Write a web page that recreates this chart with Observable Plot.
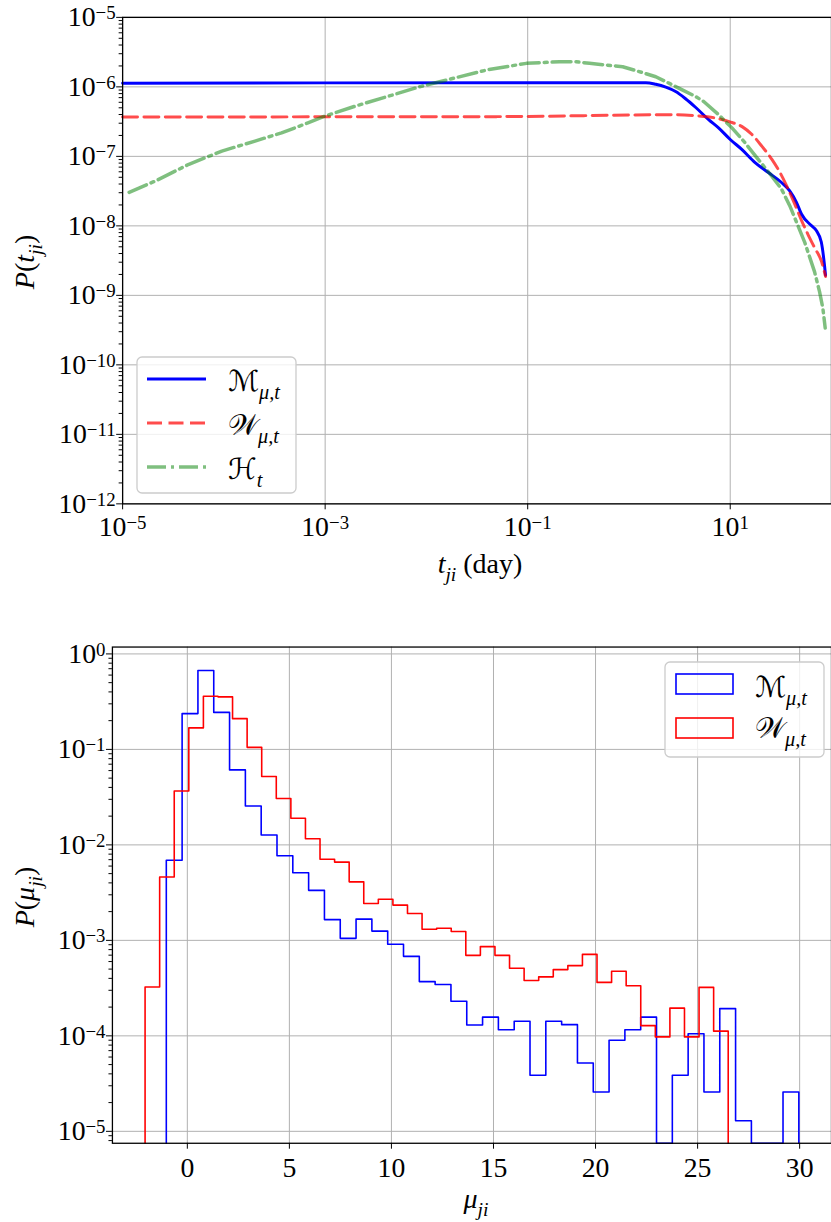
<!DOCTYPE html>
<html>
<head>
<meta charset="utf-8">
<script src="https://cdn.jsdelivr.net/npm/d3@7"></script>
<script src="https://cdn.jsdelivr.net/npm/@observablehq/plot@0.6"></script>
<style>
  html, body { margin: 0; padding: 0; background: #fff; }
  #fig { position: relative; width: 831px; height: 1222px; overflow: hidden; background: #fff; }
  .panel { position: absolute; left: 0; }
  #overlay { position: absolute; left: 0; top: 0; pointer-events: none; }
</style>
</head>
<body>
<div id="fig">
  <div class="panel" id="top" style="top:0px"></div>
  <div class="panel" id="bottom" style="top:600px"></div>
  <svg id="overlay" width="831" height="1222"></svg>
</div>
<script>
// ---- Inter-event time distributions P(t_ji) ----
const mTime = [1e-5, 0.474, 1.47, 1.84, 2.31, 2.89, 3.62, 4.54, 6.12, 7.67, 10.0, 13.0, 17.6, 23.8, 32.1, 38.7, 45.1, 50.5, 63.2, 70.8, 79.3, 85.3, 87.3];
const mProb = [1.13e-6, 1.15e-6, 1.15e-6, 1.09e-6, 9.9e-7, 8.57e-7, 6.75e-7, 5.09e-7, 3.38e-7, 2.57e-7, 1.75e-7, 1.26e-7, 8.13e-8, 5.85e-8, 4.21e-8, 3.19e-8, 2.18e-8, 1.48e-8, 1.01e-8, 8.57e-9, 5.85e-9, 2.71e-9, 1.95e-9];

const wTime = [1e-5, 0.0497, 2.89, 4.54, 7.13, 9.77, 13.1, 16.4, 20.6, 25.8, 30.9, 36.2, 43.4, 50.8, 58.2, 68.1, 79.8, 87.3];
const wProb = [3.69e-7, 3.73e-7, 3.98e-7, 3.85e-7, 3.57e-7, 3.16e-7, 2.68e-7, 2.06e-7, 1.39e-7, 9.06e-8, 5.9e-8, 3.73e-8, 2.06e-8, 1.18e-8, 7.69e-9, 4.85e-9, 3.06e-9, 1.87e-9];

const hTime = [1.16e-5, 2.12e-5, 4.51e-5, 9.55e-5, 2.03e-4, 3.71e-4, 6.76e-4, 9.84e-4, 1.94e-3, 4.12e-3, 8.73e-3, 0.0185, 0.0394, 0.0971, 0.206, 0.302, 0.408, 0.595, 0.867, 1.26, 1.84, 2.48, 3.36, 4.54, 5.47, 7.67, 10.4, 14.0, 18.9, 25.6, 32.1, 38.7, 43.4, 54.3, 68.1, 76.2, 82.2, 86.7];
const hProb = [3.03e-8, 4.44e-8, 7.69e-8, 1.19e-7, 1.66e-7, 2.18e-7, 3.03e-7, 3.77e-7, 5.23e-7, 7.27e-7, 1.01e-6, 1.33e-6, 1.75e-6, 2.18e-6, 2.30e-6, 2.30e-6, 2.18e-6, 2.06e-6, 1.95e-6, 1.66e-6, 1.40e-6, 1.13e-6, 9.06e-7, 7.27e-7, 6.16e-7, 3.98e-7, 2.57e-7, 1.57e-7, 9.06e-8, 5.24e-8, 3.38e-8, 1.95e-8, 1.30e-8, 5.85e-9, 2.18e-9, 1.13e-9, 6.52e-10, 3.38e-10];

const timeTicks = [1e-5, 1e-3, 1e-1, 1e1];
const probTicksTop = [1e-12, 1e-11, 1e-10, 1e-9, 1e-8, 1e-7, 1e-6, 1e-5];

// ---- Histograms of mu_ji (40 equal-width bins each) ----
const mHistLo = -1.03, mHistHi = 29.96;
const mHist = [6.9e-3, 0.237, 0.67, 0.244, 0.061, 0.0255, 0.0127, 7.7e-3, 5.1e-3, 3.34e-3,
               1.65e-3, 1.05e-3, 1.67e-3, 1.25e-3, 9.1e-4, 6.8e-4, 3.7e-4, 3.45e-4, 2.3e-4, 1.3e-4,
               1.57e-4, 1.16e-4, 1.42e-4, 3.87e-5, 1.42e-4, 1.31e-4, 5.2e-5, 2.58e-5, 9.0e-5, 1.16e-4,
               1.57e-4, 0, 3.87e-5, 1.05e-4, 2.58e-5, 1.93e-4, 1.29e-5, 0, 0, 2.58e-5];
const wHistLo = -2.07, wHistHi = 26.5;
const wHist = [3.25e-4, 4.6e-3, 0.0367, 0.168, 0.36, 0.355, 0.21, 0.105, 0.052, 0.0306,
               0.019, 0.0116, 7.06e-3, 6.6e-3, 4.1e-3, 2.43e-3, 2.7e-3, 2.34e-3, 1.91e-3, 1.31e-3,
               1.34e-3, 1.24e-3, 6.97e-4, 8.6e-4, 6.97e-4, 5.1e-4, 3.8e-4, 4.15e-4, 4.94e-4, 5.44e-4,
               7.14e-4, 3.63e-4, 4.75e-4, 3.35e-4, 1.28e-4, 9.75e-5, 1.95e-4, 9.75e-5, 3.22e-4, 1.12e-4];

const muTicks = [0, 5, 10, 15, 20, 25, 30];
const probTicksBottom = [1e-5, 1e-4, 1e-3, 1e-2, 1e-1, 1e0];

// ---- helpers ----
const FONT = "Liberation Serif, DejaVu Serif, serif";
const FS = 28;
const GRID = {stroke: "#b0b0b0", strokeOpacity: 1, strokeWidth: 1};

function pow10Label(v) {
  const e = Math.round(Math.log10(v));
  return "10^" + String(e).replace("-", "\u2212");
}
function minorLogTicks(lo, hi) {
  const out = [];
  for (let k = Math.floor(Math.log10(lo)); k <= Math.ceil(Math.log10(hi)); k++) {
    for (let m = 2; m <= 9; m++) {
      const v = m * Math.pow(10, k);
      if (v >= lo && v <= hi) out.push(v);
    }
  }
  return out;
}
function zip(xs, ys) { return xs.map((x, i) => ({x, y: ys[i]})); }
// Outline of a step histogram, closed down to the bottom of the axis
function stepOutline(lo, hi, vals, floor) {
  const w = (hi - lo) / vals.length;
  const pts = [{x: lo, y: floor}];
  vals.forEach((v, i) => {
    const y = v > 0 ? v : floor;
    pts.push({x: lo + i * w, y}, {x: lo + (i + 1) * w, y});
  });
  pts.push({x: hi, y: floor});
  return pts;
}
// Turn "10^-5" tick labels into a base with a raised exponent
function superscriptTicks(svg, shift, size) {
  d3.select(svg).selectAll("text").each(function () {
    const s = this.textContent;
    if (!s.includes("^")) return;
    const [b, e] = s.split("^");
    const t = d3.select(this);
    t.text(b);
    t.append("tspan").attr("dy", -shift).attr("font-size", size).text(e);
  });
}

// ---- top panel: P(t_ji) ----
const topSvg = Plot.plot({
  width: 837, height: 600,
  marginLeft: 123, marginRight: 0, marginTop: 17, marginBottom: 93,
  style: {fontFamily: FONT, fontSize: FS + "px", background: "transparent", color: "black"},
  x: {type: "log", domain: [1e-5, 1e2]},
  y: {type: "log", domain: [1e-12, 1e-5]},
  marks: [
    Plot.gridX(timeTicks, GRID),
    Plot.gridY(probTicksTop, GRID),
    Plot.line(zip(mTime, mProb), {x: "x", y: "y", stroke: "#0000ff", strokeWidth: 3, strokeLinejoin: "round", curve: "monotone-x"}),
    Plot.line(zip(wTime, wProb), {x: "x", y: "y", stroke: "#ff0000", strokeOpacity: 0.7, strokeWidth: 3, strokeDasharray: "15,6.5", curve: "monotone-x"}),
    Plot.line(zip(hTime, hProb), {x: "x", y: "y", stroke: "#008000", strokeOpacity: 0.5, strokeWidth: 3.5, strokeDasharray: "19,5,3,5"}),
    Plot.frame({stroke: "black", strokeWidth: 1.3}),
    Plot.axisY(minorLogTicks(1e-12, 1e-5), {tickSize: 3.5, tickFormat: () => "", label: null}),
    Plot.axisY(probTicksTop, {tickSize: 6, tickPadding: 1, fontSize: FS, tickFormat: pow10Label, label: null}),
    Plot.axisX(timeTicks, {tickSize: 6, tickPadding: 6, fontSize: FS, tickFormat: pow10Label, label: null})
  ]
});
superscriptTicks(topSvg, 7, 19);
document.getElementById("top").appendChild(topSvg);

// ---- bottom panel: P(mu_ji) ----
const yFloor = 7.5e-6;
const botSvg = Plot.plot({
  width: 839, height: 622,
  marginLeft: 113, marginRight: 0, marginTop: 47, marginBottom: 74,
  style: {fontFamily: FONT, fontSize: FS + "px", background: "transparent", color: "black"},
  x: {domain: [-3.67, 31.56]},
  y: {type: "log", domain: [yFloor, 1.18]},
  marks: [
    Plot.gridX(muTicks, GRID),
    Plot.gridY(probTicksBottom, GRID),
    Plot.line(stepOutline(mHistLo, mHistHi, mHist, yFloor), {x: "x", y: "y", stroke: "#0000ff", strokeWidth: 1.6}),
    Plot.line(stepOutline(wHistLo, wHistHi, wHist, yFloor), {x: "x", y: "y", stroke: "#ff0000", strokeWidth: 1.6}),
    Plot.frame({stroke: "black", strokeWidth: 1.3}),
    Plot.axisY(minorLogTicks(yFloor, 1.18), {tickSize: 3.5, tickFormat: () => "", label: null}),
    Plot.axisY(probTicksBottom, {tickSize: 6, tickPadding: 1, fontSize: FS, tickFormat: pow10Label, label: null}),
    Plot.axisX(muTicks, {tickSize: 6, tickPadding: 8, fontSize: FS, tickFormat: d => String(d), label: null})
  ]
});
superscriptTicks(botSvg, 7, 19);
document.getElementById("bottom").appendChild(botSvg);

// ---- axis titles and legends (math-style text) ----
const ov = d3.select("#overlay").attr("font-family", FONT);
function rich(x, y, parts, {anchor = "start", size = FS, rotate = 0} = {}) {
  const t = ov.append("text").attr("x", x).attr("y", y)
    .attr("text-anchor", anchor).attr("font-size", size).attr("fill", "black");
  if (rotate) t.attr("transform", `rotate(${rotate},${x},${y})`);
  let off = 0;
  for (const p of parts) {
    const target = p.sub ? size * 0.28 : 0;
    const s = t.append("tspan").attr("dy", target - off).text(p.t);
    off = target;
    if (p.sub) s.attr("font-size", size * 0.7);
    if (p.it) s.attr("font-style", "italic");
    if (p.cal) s.attr("font-family", "DejaVu Serif, DejaVu Sans, serif");
  }
}

rich(34, 262, [{t: "P", it: true}, {t: "("}, {t: "t", it: true}, {t: "ji", it: true, sub: true}, {t: ")"}], {anchor: "middle", rotate: -90});
rich(480, 573, [{t: "t", it: true}, {t: "ji", it: true, sub: true}, {t: " (day)"}], {anchor: "middle"});
rich(34, 897, [{t: "P", it: true}, {t: "("}, {t: "\u03bc", it: true}, {t: "ji", it: true, sub: true}, {t: ")"}], {anchor: "middle", rotate: -90});
rich(476, 1208, [{t: "\u03bc", it: true}, {t: "ji", it: true, sub: true}], {anchor: "middle"});

const labelM = [{t: "\u2133", cal: true}, {t: "\u03bc,t", it: true, sub: true}];
const labelW = [{t: "\ud835\udcb2", cal: true}, {t: "\u03bc,t", it: true, sub: true}];
const labelH = [{t: "\u210b", cal: true}, {t: "t", it: true, sub: true}];

// line legend
ov.append("rect").attr("x", 137).attr("y", 357).attr("width", 159).attr("height", 136).attr("rx", 5)
  .attr("fill", "white").attr("fill-opacity", 0.8).attr("stroke", "#cccccc").attr("stroke-width", 1.3);
const lineKeys = [
  {y: 379, stroke: "#0000ff", op: 1, w: 3, dash: null, label: labelM},
  {y: 423, stroke: "#ff0000", op: 0.7, w: 3, dash: "15,6.5", label: labelW},
  {y: 467, stroke: "#008000", op: 0.5, w: 3.5, dash: "19,5,3,5", label: labelH}
];
for (const k of lineKeys) {
  const l = ov.append("line").attr("x1", 147).attr("x2", 206).attr("y1", k.y).attr("y2", k.y)
    .attr("stroke", k.stroke).attr("stroke-opacity", k.op).attr("stroke-width", k.w);
  if (k.dash) l.attr("stroke-dasharray", k.dash);
  rich(228, k.y + 12, k.label, {size: 29});
}

// histogram legend
ov.append("rect").attr("x", 665).attr("y", 662).attr("width", 159).attr("height", 95).attr("rx", 5)
  .attr("fill", "white").attr("fill-opacity", 0.8).attr("stroke", "#cccccc").attr("stroke-width", 1.3);
const patchKeys = [
  {y: 674, stroke: "#0000ff", label: labelM, base: 697},
  {y: 718, stroke: "#ff0000", label: labelW, base: 738}
];
for (const k of patchKeys) {
  ov.append("rect").attr("x", 676).attr("y", k.y).attr("width", 57).attr("height", 20)
    .attr("fill", "none").attr("stroke", k.stroke).attr("stroke-width", 1.6);
  rich(755, k.base, k.label, {size: 29});
}
</script>
</body>
</html>
